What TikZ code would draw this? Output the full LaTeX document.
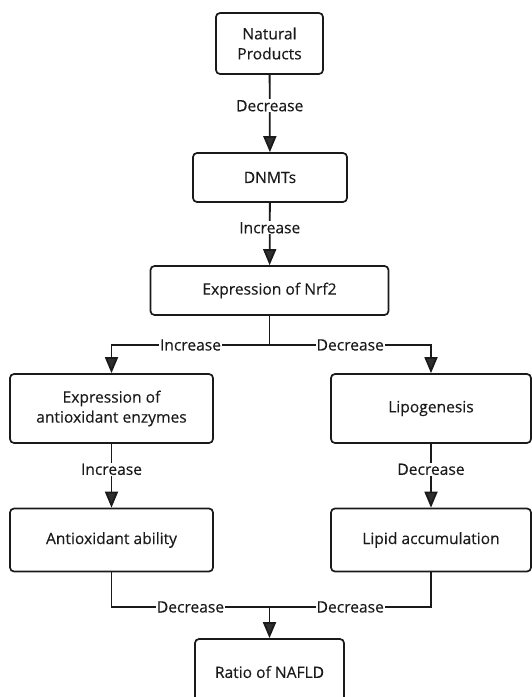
\documentclass[tikz,border=0pt]{standalone}
\usepackage{fontspec}
\setmainfont{Open Sans}[BoldFont={Open Sans}, BoldFeatures={FakeBold=0.25}]
\usetikzlibrary{arrows.meta}
\definecolor{ink}{HTML}{1A1A1A}
\definecolor{tipc}{HTML}{2E2E2E}
\tikzset{
  box/.style={draw=ink, line width=1.7pt, rounded corners=4pt, align=center,
    inner sep=0pt, text=ink, font=\fontsize{15.6}{20}\selectfont\bfseries},
  conn/.style={draw=ink, line width=1.8pt},
  arr/.style={conn, -{Triangle[width=13pt,length=16pt,fill=tipc]}},
  lbl/.style={fill=white, inner sep=1pt, text=ink, font=\fontsize{15.6}{20}\selectfont\bfseries}
}
\begin{document}
\begin{tikzpicture}[x=1pt,y=-1pt]
\useasboundingbox (0,0) rectangle (532,697);
\clip (0,0) rectangle (532,697);
\fill[white] (0,0) rectangle (532,697);

\node[box, minimum width=107pt, minimum height=61pt] (np) at (269.5,43.5) {Natural\\Products};
\node[box, minimum width=154pt, minimum height=49pt] (dnmt) at (270,177.5) {DNMTs};
\node[box, minimum width=238pt, minimum height=49pt] (nrf) at (269.5,290.5) {Expression of Nrf2};
\node[box, minimum width=203pt, minimum height=69pt] (aoe) at (111.5,408.5) {Expression of\\antioxidant enzymes};
\node[box, minimum width=200pt, minimum height=69pt] (lipo) at (431,408.5) {Lipogenesis};
\node[box, minimum width=203pt, minimum height=63pt] (aoa) at (111.5,540) {Antioxidant ability};
\node[box, minimum width=200pt, minimum height=63pt] (lipa) at (431,540) {Lipid accumulation};
\node[box, minimum width=149pt, minimum height=66pt] (nafld) at (269.5,672) {Ratio of NAFLD};

\coordinate (split) at (269.5,345);
\coordinate (join) at (269.5,607);

\draw[arr] (np) -- node[lbl, pos=0.4] {Decrease} (dnmt);
\draw[arr] (dnmt) -- node[lbl, pos=0.4] {Increase} (nrf);

\draw[conn] (nrf.south) -- (split);
\draw[arr] (split) -- node[lbl, pos=0.5] {Increase} (aoe.north |- split) -- (aoe.north);
\draw[arr] (split) -- node[lbl, pos=0.5] {Decrease} (lipo.north |- split) -- (lipo.north);

\draw[arr] (aoe) -- node[lbl, pos=0.4] {Increase} (aoa);
\draw[arr] (lipo) -- node[lbl, pos=0.4] {Decrease} (lipa);

\draw[conn] (aoa.south) -- (aoa.south |- join) -- node[lbl, pos=0.5] {Decrease} (join);
\draw[conn] (lipa.south) -- (lipa.south |- join) -- node[lbl, pos=0.5] {Decrease} (join);
\draw[arr] (join) -- (nafld.north);
\end{tikzpicture}
\end{document}
